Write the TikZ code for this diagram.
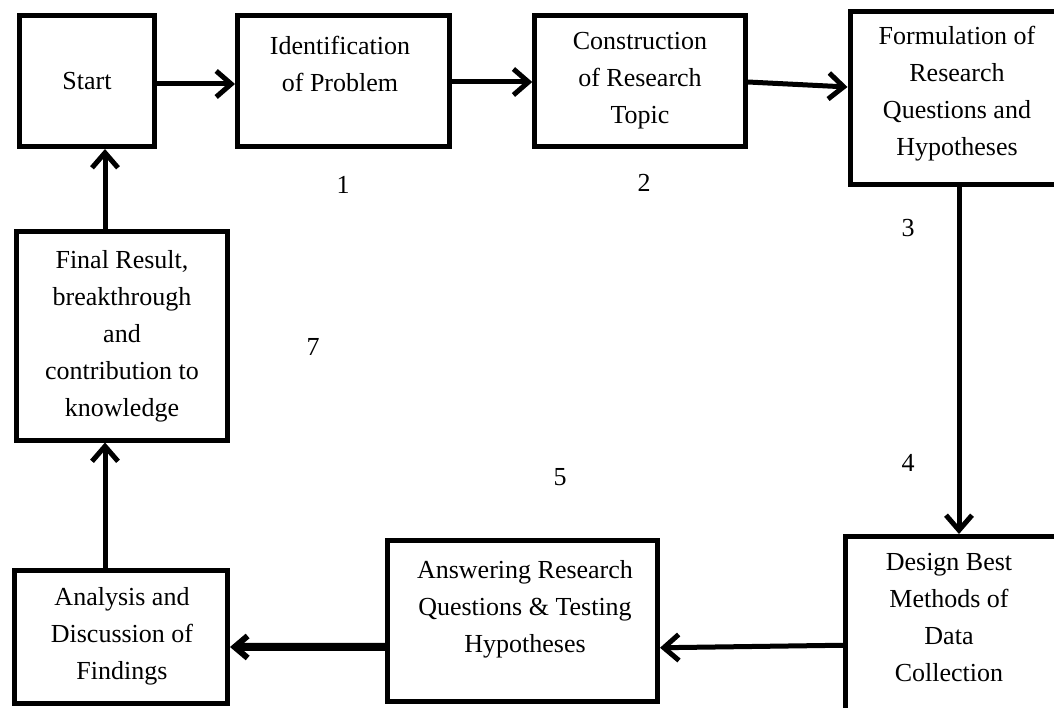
\documentclass[tikz,border=0pt]{standalone}
\usepackage{fontspec}
\setmainfont{Liberation Serif}
\usetikzlibrary{arrows.meta}
\newcommand\bt[3]{\smash{\makebox[0pt]{\hspace*{#1}\hspace*{#1}\raisebox{#2}{\begin{tabular}{@{}c@{}}#3\end{tabular}}}}}
\tikzset{
  stepbox/.style={draw=black, line width=5pt, rectangle, inner sep=0pt, fill=white},
  arr/.style={line width=5pt, -{Straight Barb[length=15pt,width=26pt]}},
  arrthick/.style={line width=8pt, -{Straight Barb[length=13pt,width=22pt,line width=6pt]}},
  numlbl/.style={inner sep=0pt}
}
\begin{document}
\begin{tikzpicture}[x=1pt,y=-1pt,font=\fontsize{26pt}{37pt}\selectfont]
\useasboundingbox[fill=white] (0,0) rectangle (1054,708);
\node[stepbox, minimum width=135pt, minimum height=131pt] (start) at (87,81) {\bt{0pt}{-7pt}{Start}};
\node[stepbox, minimum width=212pt, minimum height=131pt] (ident) at (343.5,81) {\bt{-3.5pt}{9pt}{Identification\\of Problem}};
\node[stepbox, minimum width=210.5pt, minimum height=131pt] (constr) at (640,81) {\bt{0pt}{-4.5pt}{Construction\\of Research\\Topic}};
\node[stepbox, minimum width=210pt, minimum height=173pt] (form) at (955,98.5) {\bt{2pt}{0pt}{Formulation of\\Research\\Questions and\\Hypotheses}};
\node[stepbox, minimum width=224.5pt, minimum height=203.5pt] (design) at (957.75,638.25) {\bt{-8.75pt}{13.5pt}{Design Best\\Methods of\\Data\\Collection}};
\node[stepbox, minimum width=270pt, minimum height=160.5pt] (answ) at (522.5,620.75) {\bt{2.5pt}{6pt}{Answering Research\\Questions \& Testing\\Hypotheses}};
\node[stepbox, minimum width=213pt, minimum height=133pt] (anal) at (121,636.5) {\bt{1pt}{-5pt}{Analysis and\\Discussion of\\Findings}};
\node[stepbox, minimum width=211pt, minimum height=208pt] (final) at (122,336) {\bt{0pt}{-5pt}{Final Result,\\breakthrough\\and\\contribution to\\knowledge}};

\node[numlbl] (n1) at (343,185) {1};
\node[numlbl] (n2) at (644,183) {2};
\node[numlbl] (n3) at (908,228) {3};
\node[numlbl] (n4) at (908,463) {4};
\node[numlbl] (n5) at (560,477) {5};
\node[numlbl] (n7) at (313,347) {7};

\draw[arr] ([yshift=-3pt]start.east) -- ([yshift=-3pt]ident.west);
\draw[arr] ([yshift=-1pt]ident.east) -- ([yshift=-1pt]constr.west);
\draw[arr] ([yshift=-1pt]constr.east) -- ([yshift=11.5pt]form.west);
\draw[arr] ([xshift=4pt]form.south) -- ([xshift=4pt]form.south |- design.north);
\draw[arr] ([yshift=-7pt]design.west) -- ([yshift=-27pt]answ.east);
\draw[arrthick] ([yshift=-26pt]answ.west) -- ([yshift=-10.5pt]anal.east);
\draw[arr] ([xshift=-16pt]anal.north) -- ([xshift=-17pt]final.south);
\draw[arr] ([xshift=-17pt]final.north) -- ([xshift=18pt]start.south);
\end{tikzpicture}
\end{document}
